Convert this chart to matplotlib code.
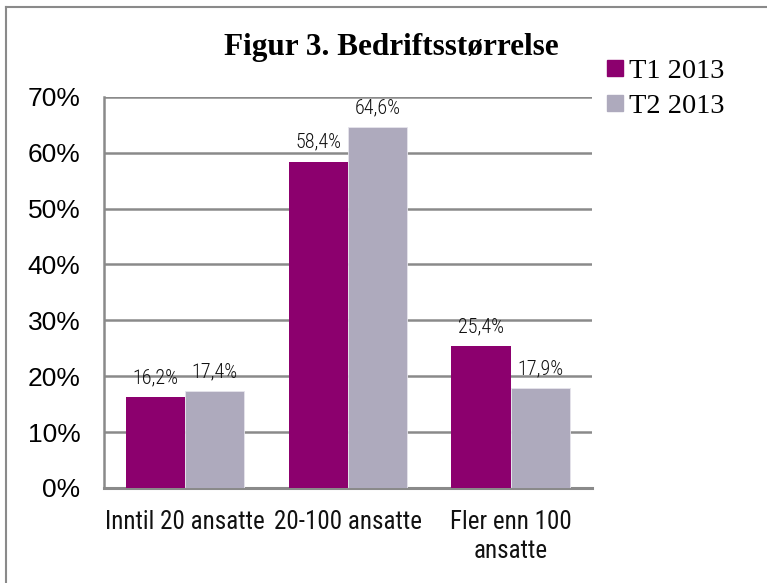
#!/usr/bin/env python3

import matplotlib
matplotlib.use("Agg")
import matplotlib.pyplot as plt
import numpy as np
from matplotlib.lines import Line2D

# Data
categories = ["Inntil 20 ansatte", "20-100 ansatte", "Fler enn 100\nansatte"]
series_names = ["T1 2013", "T2 2013"]
t1_values = [16.2, 58.4, 25.4]
t2_values = [17.4, 64.6, 17.9]
yticks = [0, 10, 20, 30, 40, 50, 60, 70]

T1_COLOR = "#8c006e"
T2_COLOR = "#aeaabd"
GRID_COLOR = "#8a8a8a"
NARROW = ["Roboto Condensed", "Archivo Narrow", "DejaVu Sans"]

fig = plt.figure(figsize=(7.67, 5.83), dpi=100)
ax = fig.add_axes([0.1356, 0.163, 0.636, 0.671])

x = np.arange(len(categories))
w = 0.363
b1 = ax.bar(x - w / 2, t1_values, w, color=T1_COLOR, zorder=3)
b2 = ax.bar(x + w / 2, t2_values, w, color=T2_COLOR, zorder=3,
            edgecolor="#e6e4ec", linewidth=0.6)

for bars, vals in ((b1, t1_values), (b2, t2_values)):
    for rect, v in zip(bars, vals):
        ax.annotate(f"{v:.1f}%".replace(".", ","),
                    (rect.get_x() + rect.get_width() / 2, rect.get_height()),
                    xytext=(0, 7), textcoords="offset points",
                    ha="center", va="bottom", fontsize=14.5, family=NARROW,
                    fontweight="light", color="#111111")

ax.set_xlim(-0.5, len(categories) - 0.5)
ax.set_ylim(0, 70)
ax.set_yticks(yticks)
ax.set_yticklabels([f"{t}%" for t in yticks], fontsize=19, family="Liberation Sans")
ax.set_xticks(x)
ax.set_xticklabels(categories, fontsize=18, family=NARROW,
                   linespacing=1.25, color="#111111")
ax.tick_params(axis="both", length=0)
ax.tick_params(axis="y", pad=17)
ax.tick_params(axis="x", pad=16)

ax.grid(axis="y", color=GRID_COLOR, linewidth=1.8, zorder=0)
for s in ("top", "right"):
    ax.spines[s].set_visible(False)
ax.spines["left"].set_color(GRID_COLOR)
ax.spines["left"].set_linewidth(1.8)
ax.spines["bottom"].set_color(GRID_COLOR)
ax.spines["bottom"].set_linewidth(2.2)

fig.text(391 / 767, 1 - 48 / 583, "Figur 3. Bedriftsstørrelse",
         ha="center", va="center", fontsize=22.5, fontweight="bold",
         family="Liberation Serif")

handles = [Line2D([], [], marker="s", linestyle="none", markersize=11,
                  markerfacecolor=c, markeredgecolor=c)
           for c in (T1_COLOR, T2_COLOR)]
fig.legend(handles, series_names, loc="upper left",
           bbox_to_anchor=(606 / 767, 1 - 58 / 583), frameon=False,
           prop={"family": "Liberation Serif", "size": 20.5},
           handlelength=0.6, handletextpad=0.2, labelspacing=0.32,
           borderaxespad=0, borderpad=0)

# outer frame (only top and left edges visible in the crop)
fig.add_artist(Line2D([6 / 767, 6 / 767], [0, 1 - 7 / 583],
                      transform=fig.transFigure, color="#8a8a8a", linewidth=1.5))
fig.add_artist(Line2D([6 / 767, 1], [1 - 7 / 583, 1 - 7 / 583],
                      transform=fig.transFigure, color="#8a8a8a", linewidth=1.5))

fig.savefig("out.png", dpi=100)
